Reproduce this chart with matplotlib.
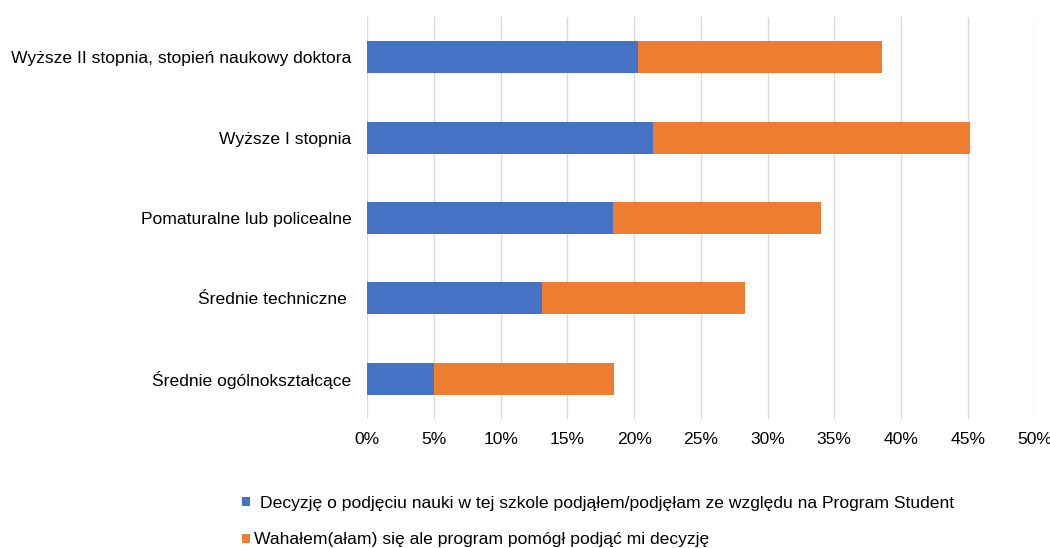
import numpy as np
import matplotlib
matplotlib.use('Agg')
import matplotlib.pyplot as plt
from matplotlib.ticker import PercentFormatter

plt.rcParams['font.family'] = ['Liberation Sans', 'DejaVu Sans']

# Categories, top to bottom as in the chart
categories = ["Wyższe II stopnia, stopień naukowy doktora",
              "Wyższe I stopnia",
              "Pomaturalne lub policealne",
              "Średnie techniczne ",
              "Średnie ogólnokształcące"]
decided = [20.3, 21.4, 18.4, 13.1, 5.0]       # % decided because of the programme
hesitated = [18.3, 23.8, 15.6, 15.2, 13.5]    # % hesitated, programme helped

series_names = ["Decyzję o podjęciu nauki w tej szkole podjąłem/podjęłam ze względu na Program Student",
                "Wahałem(ałam) się ale program pomógł podjąć mi decyzję"]
blue = "#4472C4"
orange = "#ED7D31"
fs = 12.6

fig = plt.figure(figsize=(10.5, 5.48), dpi=100)
ax = fig.add_axes([0.3498, 0.2354, 0.6354, 0.7336])

y = np.arange(len(categories))
b1 = ax.barh(y, decided, height=0.4, color=blue)
b2 = ax.barh(y, hesitated, left=decided, height=0.4, color=orange)

ax.set_xlim(0, 50)
ax.set_ylim(len(categories) - 0.5, -0.5)
ax.set_yticks(y)
ax.set_yticklabels(categories)
ax.set_xticks(np.arange(0, 51, 5))
ax.xaxis.set_major_formatter(PercentFormatter(decimals=0))
ax.tick_params(axis='both', length=0, labelsize=fs, colors='#000000')
ax.tick_params(axis='x', pad=9)
ax.tick_params(axis='y', pad=11.5)
ax.grid(axis='x', color='#D9D9D9', linewidth=1)
ax.set_axisbelow(True)
for s in ax.spines.values():
    s.set_visible(False)

# legend, two rows as in the original
fig.legend([b1], [series_names[0]], loc='center left', bbox_to_anchor=(0.2305, 0.0821),
           frameon=False, fontsize=fs, handlelength=0.46, handleheight=0.46,
           handletextpad=0.57, borderpad=0, borderaxespad=0)
fig.legend([b2], [series_names[1]], loc='center left', bbox_to_anchor=(0.2305, 0.0146),
           frameon=False, fontsize=fs, handlelength=0.46, handleheight=0.46,
           handletextpad=0.23, borderpad=0, borderaxespad=0)

fig.savefig("out.png", dpi=100)
